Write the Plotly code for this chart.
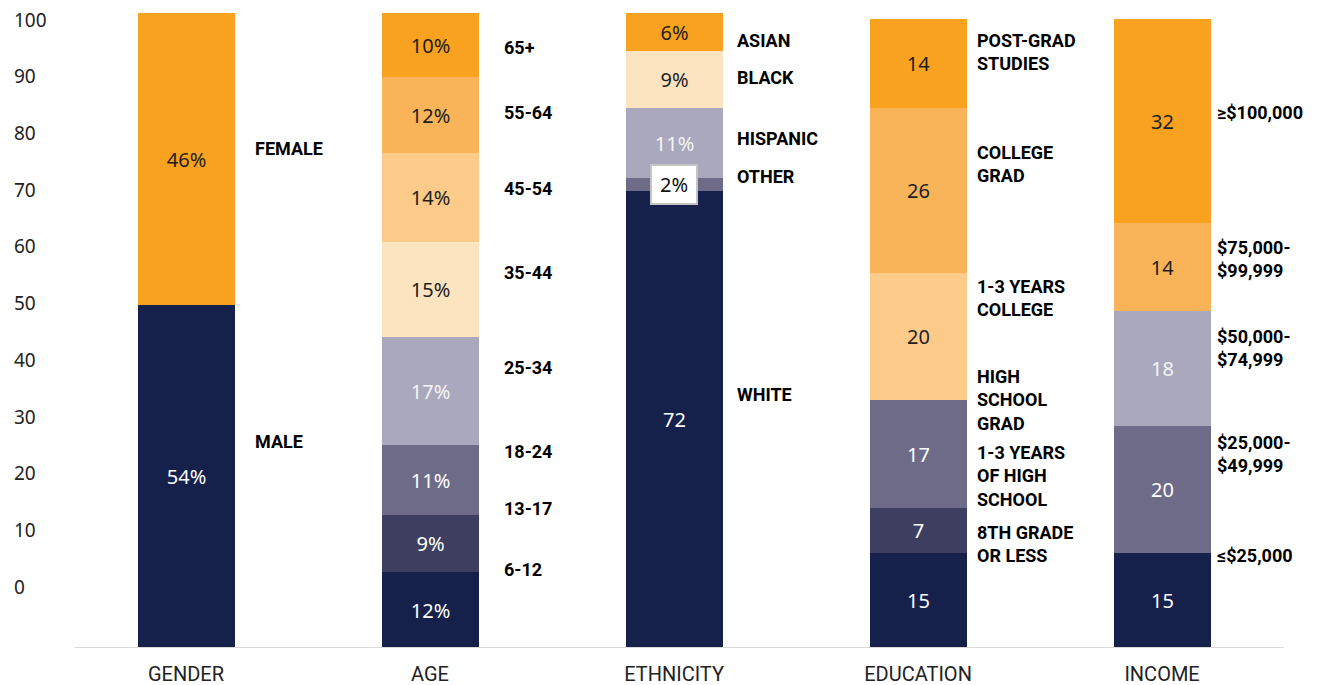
import plotly.graph_objects as go

# ---- data -------------------------------------------------------------
groups = ["GENDER", "AGE", "ETHNICITY", "EDUCATION", "INCOME"]

gender_values = [54, 46]
gender_labels = ["MALE", "FEMALE"]
gender_suffix = ["%", "%"]

age_values = [12, 9, 11, 17, 15, 14, 12, 10]
age_labels = ["6-12", "13-17", "18-24", "25-34", "35-44", "45-54", "55-64", "65+"]
age_suffix = ["%"] * 8

ethnicity_values = [72, 2, 11, 9, 6]
ethnicity_labels = ["WHITE", "OTHER", "HISPANIC", "BLACK", "ASIAN"]
ethnicity_suffix = ["", "%", "%", "%", "%"]

education_values = [15, 7, 17, 20, 26, 14]
education_labels = ["8TH GRADE<br>OR LESS", "1-3 YEARS<br>OF HIGH<br>SCHOOL",
                    "HIGH<br>SCHOOL<br>GRAD", "1-3 YEARS<br>COLLEGE",
                    "COLLEGE<br>GRAD", "POST-GRAD<br>STUDIES"]
education_suffix = [""] * 6

income_values = [15, 20, 18, 14, 32]
income_labels = ["≤$25,000", "$25,000-<br>$49,999", "$50,000-<br>$74,999",
                 "$75,000-<br>$99,999", "≥$100,000"]
income_suffix = [""] * 5

y_tick_values = [0, 10, 20, 30, 40, 50, 60, 70, 80, 90, 100]
y_tick_text = [str(v) for v in y_tick_values]

# ---- styling ----------------------------------------------------------
NAVY = "#16214b"
SLATE_DARK = "#3e3f60"
SLATE = "#6e6b88"
LAVENDER = "#aaa8bd"
PEACH = "#fde4c1"
ORANGE_LIGHT = "#fcca89"
ORANGE_MID = "#f9b358"
ORANGE = "#f8a21f"

LIGHT_TEXT = "#ffffff"
DARK_TEXT = "#1e1e1e"
text_color_for = {NAVY: LIGHT_TEXT, SLATE_DARK: LIGHT_TEXT, SLATE: LIGHT_TEXT,
                  LAVENDER: "#f4f4f4", PEACH: DARK_TEXT, ORANGE_LIGHT: DARK_TEXT,
                  ORANGE_MID: DARK_TEXT, ORANGE: DARK_TEXT}

group_specs = [
    dict(values=gender_values, labels=gender_labels, suffix=gender_suffix,
         colors=[NAVY, ORANGE],
         label_y=[32.6, 78.6], label_dx=0.276),
    dict(values=age_values, labels=age_labels, suffix=age_suffix,
         colors=[NAVY, SLATE_DARK, SLATE, LAVENDER, PEACH, ORANGE_LIGHT, ORANGE_MID, ORANGE],
         label_y=[12.4, 22.0, 30.9, 44.1, 59.2, 72.4, 84.4, 94.5], label_dx=0.294),
    dict(values=ethnicity_values, labels=ethnicity_labels, suffix=ethnicity_suffix,
         colors=[NAVY, SLATE, LAVENDER, PEACH, ORANGE],
         label_y=[40.0, 74.3, 80.3, 89.8, 95.7], label_dx=0.248),
    dict(values=education_values, labels=education_labels, suffix=education_suffix,
         colors=[NAVY, SLATE_DARK, SLATE, ORANGE_LIGHT, ORANGE_MID, ORANGE],
         label_y=[16.4, 27.1, 39.1, 55.1, 76.3, 93.9], label_dx=0.233),
    dict(values=income_values, labels=income_labels, suffix=income_suffix,
         colors=[NAVY, SLATE, LAVENDER, ORANGE_MID, ORANGE],
         label_y=[14.6, 30.6, 47.2, 61.3, 84.3], label_dx=0.215),
]

BAR_WIDTH = 0.3975
VALUE_FONT = "Noto Sans"
LABEL_FONT = "Roboto"

fig = go.Figure()
annotations = []

for gi, spec in enumerate(group_specs):
    base = 0
    for val, sfx, col in zip(spec["values"], spec["suffix"], spec["colors"]):
        txt = f"{val}{sfx}"
        # the thin "2%" slice gets a boxed call-out instead of inside text
        small = val < 4
        fig.add_trace(go.Bar(
            x=[gi], y=[val], width=BAR_WIDTH,
            marker=dict(color=col, line=dict(width=0)),
            text=[None if small else txt],
            textposition="inside", insidetextanchor="middle", textangle=0,
            insidetextfont=dict(family=VALUE_FONT, size=20, color=text_color_for[col]),
            hoverinfo="skip", showlegend=False,
        ))
        if small:
            annotations.append(dict(
                x=gi, y=base + val / 2, xref="x", yref="y",
                text=txt, showarrow=False,
                font=dict(family=VALUE_FONT, size=20, color="#111111"),
                bgcolor="#ffffff", bordercolor="#c4c4c4", borderwidth=2,
                borderpad=2, width=40, height=33,
                xanchor="center", yanchor="middle",
            ))
        base += val
    for lab, ly in zip(spec["labels"], spec["label_y"]):
        annotations.append(dict(
            x=gi + spec["label_dx"], y=ly, xref="x", yref="y",
            text=f"<b>{lab}</b>", showarrow=False, align="left",
            xanchor="left", yanchor="middle",
            font=dict(family=LABEL_FONT, size=18, color="#000000"),
        ))

# helper trace so the left value scale is rendered
fig.add_trace(go.Scatter(x=[None], y=[None], yaxis="y2", showlegend=False,
                         hoverinfo="skip"))

fig.update_layout(
    width=1318, height=685,
    margin=dict(l=0, r=0, t=0, b=37),
    paper_bgcolor="#ffffff", plot_bgcolor="#ffffff",
    barmode="stack", bargap=0,
    xaxis=dict(
        range=[-0.7623, 4.639], tickvals=list(range(len(groups))), ticktext=groups,
        showgrid=False, zeroline=False, showline=False, ticks="",
        ticklabelstandoff=12,
        tickfont=dict(family=LABEL_FONT, size=20, color="#222222"),
        automargin=False, fixedrange=True,
    ),
    yaxis=dict(
        range=[0, 102.05], visible=False, showgrid=False, zeroline=False,
        fixedrange=True,
    ),
    yaxis2=dict(
        overlaying="y", side="left", anchor="free", position=0,
        range=[-10.76, 103.53], tickvals=y_tick_values, ticktext=y_tick_text,
        ticklabelposition="inside", ticks="", showgrid=False, zeroline=False,
        showline=False, ticklabelstandoff=10,
        tickfont=dict(family=VALUE_FONT, size=19, color="#222222"),
        fixedrange=True,
    ),
    shapes=[dict(type="line", xref="x", yref="y", x0=-0.455, x1=4.5, y0=0, y1=0,
                 line=dict(color="#d9d9d9", width=2), layer="above")],
    annotations=annotations,
)

fig.write_html("out.html")
